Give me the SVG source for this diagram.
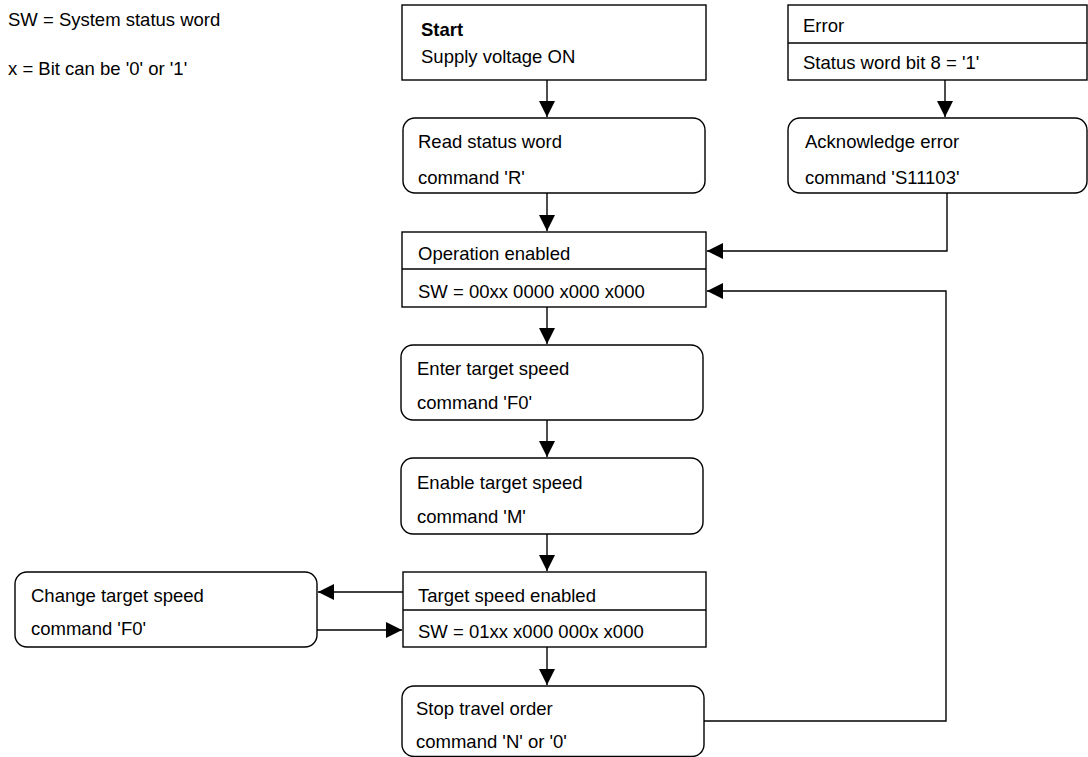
<svg xmlns="http://www.w3.org/2000/svg" width="1088" height="757" viewBox="0 0 1088 757">
<style>
text{font-family:"Liberation Sans",Arial,sans-serif;font-size:18.5px;fill:#000}
.b{font-weight:bold}
.box{fill:#fff;stroke:#000;stroke-width:1.4}
.div{stroke:#000;stroke-width:1.4}
.c{fill:none;stroke:#000;stroke-width:1.4}
</style>
<defs>
<marker id="ah" markerUnits="userSpaceOnUse" markerWidth="16" markerHeight="16" viewBox="0 0 16 16" refX="16" refY="8" orient="auto">
<path d="M0,0 L16,8 L0,16 Z" fill="#000"/>
</marker>
</defs>
<rect width="1088" height="757" fill="#fff"/>
<g id="legend">
<text x="8" y="26">SW = System status word</text>
<text x="8" y="75">x = Bit can be '0' or '1'</text>
</g>
<g id="connectors">
<path class="c" d="M547,80 V117" marker-end="url(#ah)"/>
<path class="c" d="M547,193 V231" marker-end="url(#ah)"/>
<path class="c" d="M547,307 V344" marker-end="url(#ah)"/>
<path class="c" d="M547,420 V457" marker-end="url(#ah)"/>
<path class="c" d="M547,534 V571" marker-end="url(#ah)"/>
<path class="c" d="M547,647 V685" marker-end="url(#ah)"/>
<path class="c" d="M945,80 V117" marker-end="url(#ah)"/>
<path class="c" d="M947,193 V251 H707" marker-end="url(#ah)"/>
<path class="c" d="M704,721 H946 V291 H707" marker-end="url(#ah)"/>
<path class="c" d="M403,592 H318" marker-end="url(#ah)"/>
<path class="c" d="M317,630 H402" marker-end="url(#ah)"/>
</g>
<g id="start">
<rect class="box" x="402" y="5" width="304" height="75"/>
<text class="b" x="421" y="36">Start</text>
<text x="421" y="63">Supply voltage ON</text>
</g>
<g id="error">
<rect class="box" x="788" y="5" width="299" height="75"/>
<line class="div" x1="788" y1="43" x2="1087" y2="43"/>
<text x="803" y="32">Error</text>
<text x="803" y="69">Status word bit 8 = '1'</text>
</g>
<g id="read">
<rect class="box" x="403" y="118" width="302" height="75" rx="12"/>
<text x="418" y="148">Read status word</text>
<text x="418" y="184">command 'R'</text>
</g>
<g id="ack">
<rect class="box" x="788" y="118" width="299" height="75" rx="12"/>
<text x="805" y="148">Acknowledge error</text>
<text x="805" y="184">command 'S11103'</text>
</g>
<g id="opEnabled">
<rect class="box" x="402" y="232" width="304" height="75"/>
<line class="div" x1="402" y1="269" x2="706" y2="269"/>
<text x="418" y="260">Operation enabled</text>
<text x="418" y="298">SW = 00xx 0000 x000 x000</text>
</g>
<g id="enterSpeed">
<rect class="box" x="401" y="345" width="302" height="75" rx="12"/>
<text x="417" y="375">Enter target speed</text>
<text x="417" y="409">command 'F0'</text>
</g>
<g id="enableSpeed">
<rect class="box" x="401" y="458" width="302" height="76" rx="12"/>
<text x="417" y="489">Enable target speed</text>
<text x="417" y="523">command 'M'</text>
</g>
<g id="targetEnabled">
<rect class="box" x="403" y="572" width="303" height="75"/>
<line class="div" x1="403" y1="610" x2="706" y2="610"/>
<text x="418" y="602">Target speed enabled</text>
<text x="418" y="638">SW = 01xx x000 000x x000</text>
</g>
<g id="changeSpeed">
<rect class="box" x="15" y="572" width="302" height="75" rx="12"/>
<text x="31" y="602">Change target speed</text>
<text x="31" y="635">command 'F0'</text>
</g>
<g id="stopTravel">
<rect class="box" x="402" y="686" width="302" height="70.5" rx="12"/>
<text x="416" y="715">Stop travel order</text>
<text x="416" y="748">command 'N' or '0'</text>
</g>
</svg>
